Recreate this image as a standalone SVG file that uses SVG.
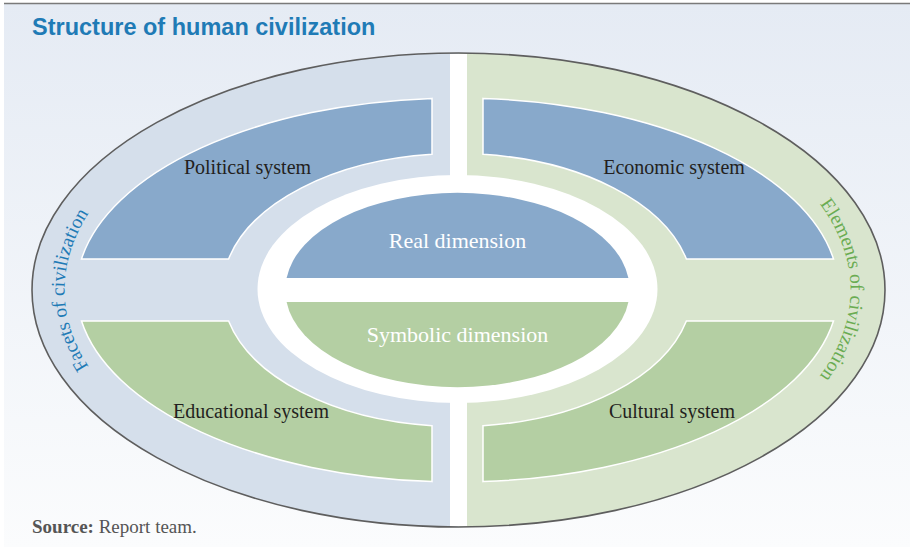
<svg xmlns="http://www.w3.org/2000/svg" width="910" height="547" viewBox="0 0 910 547">
  <style>
    .label { font-family: "Liberation Serif", "Times New Roman", serif; font-size: 20px; fill: #231f20; text-anchor: middle; }
    .dim { font-family: "Liberation Serif", "Times New Roman", serif; font-size: 22px; fill: #ffffff; text-anchor: middle; }
    .side { font-family: "Liberation Serif", "Times New Roman", serif; font-size: 19.5px; }
    .blue { fill: #88a9cb; stroke: #ffffff; stroke-width: 1.5; }
    .green { fill: #b4cfa3; stroke: #ffffff; stroke-width: 1.5; }
  </style>
  <defs>
    <linearGradient id="bg" x1="0" y1="0" x2="0" y2="1">
      <stop offset="0" stop-color="#e5ebf4"/>
      <stop offset="1" stop-color="#fbfcfd"/>
    </linearGradient>
    <!-- baseline ellipse for the curved side captions, drawn clockwise -->
    <path id="leftArc" d="M 457.5 512 A 393 222 0 0 1 457.5 68"/>
    <path id="rightArc" d="M 457.5 68 A 393 222 0 0 1 457.5 512"/>
  </defs>

  <!-- panel -->
  <rect x="0" y="0" width="910" height="547" fill="#ffffff"/>
  <rect x="4" y="4" width="906" height="543" fill="url(#bg)"/>
  <line x1="4" y1="3.5" x2="910" y2="3.5" stroke="#7a7a7a" stroke-width="1.5"/>

  <text x="32" y="35" font-family="'Liberation Sans', Arial, sans-serif" font-weight="bold" font-size="23.5" fill="#1f7bb6">Structure of human civilization</text>

  <!-- outer ring: two halves split by a white channel -->
  <g id="outer-ring">
    <path d="M 458.5 53 A 426.5 237 0 0 0 458.5 527 Z" fill="#d5dfeb"/>
    <path d="M 458.5 53 A 426.5 237 0 0 1 458.5 527 Z" fill="#d9e5ce"/>
    <rect x="450" y="54" width="17" height="472" fill="#ffffff"/>
    <ellipse cx="458.5" cy="290" rx="426.5" ry="237" fill="none" stroke="#5e5e5e" stroke-width="1.6"/>
  </g>

  <g id="facets">
    <text class="side" fill="#1f7bb6"><textPath href="#leftArc" startOffset="50%" text-anchor="middle">Facets of civilization</textPath></text>
  </g>
  <g id="elements">
    <text class="side" fill="#6aac52"><textPath href="#rightArc" startOffset="50%" text-anchor="middle">Elements of civilization</textPath></text>
  </g>

  <!-- four systems -->
  <g id="political">
    <path class="blue" d="M 81.5 259 A 381 192 0 0 1 432 98.4 L 432 154.3 A 235 136.5 0 0 0 228.6 259 Z"/>
    <text class="label" x="247.5" y="174">Political system</text>
  </g>
  <g id="economic">
    <path class="blue" d="M 833.5 259 A 381 192 0 0 0 483 98.4 L 483 154.3 A 235 136.5 0 0 1 686.4 259 Z"/>
    <text class="label" x="674" y="174">Economic system</text>
  </g>
  <g id="educational">
    <path class="green" d="M 81.5 321 A 381 192 0 0 0 432 481.6 L 432 425.7 A 235 136.5 0 0 1 228.6 321 Z"/>
    <text class="label" x="251" y="418">Educational system</text>
  </g>
  <g id="cultural">
    <path class="green" d="M 833.5 321 A 381 192 0 0 1 483 481.6 L 483 425.7 A 235 136.5 0 0 0 686.4 321 Z"/>
    <text class="label" x="672" y="418">Cultural system</text>
  </g>

  <!-- core -->
  <g id="core">
    <ellipse cx="457.5" cy="289" rx="200" ry="114" fill="#ffffff"/>
  </g>
  <g id="real">
    <path d="M 286.6 278 A 172 96 0 0 1 628.4 278 Z" fill="#88a9cb"/>
    <text class="dim" x="457.5" y="248">Real dimension</text>
  </g>
  <g id="symbolic">
    <path d="M 286.6 302 A 172 96 0 0 0 628.4 302 Z" fill="#b4cfa3"/>
    <text class="dim" x="457.5" y="342">Symbolic dimension</text>
  </g>

  <text x="32" y="533" font-family="'Liberation Serif', 'Times New Roman', serif" font-size="19" fill="#555555"><tspan font-weight="bold">Source:</tspan> Report team.</text>
</svg>
